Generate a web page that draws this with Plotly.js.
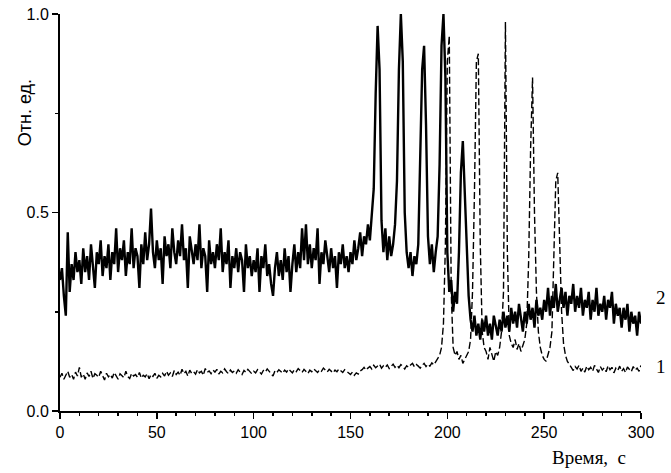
<!DOCTYPE html>
<html>
<head>
<meta charset="utf-8">
<script src="https://cdn.plot.ly/plotly-3.0.1.min.js"></script>
<style>html,body{margin:0;padding:0;background:#fff;}#chart{width:671px;height:473px;}</style>
</head>
<body>
<div id="chart"></div>
<script>
// Time axis, seconds (1 s step)
const timeStart = 0;
const timeEnd = 300;
const time = [];
for (let t = timeStart; t <= timeEnd; t++) time.push(t);

// Curve 2 (solid), relative units, t = 0..300
const curve2 = [
0.33,0.36,0.29,0.24,0.45,0.30,0.37,0.33,0.40,0.35,
0.38,0.32,0.41,0.35,0.39,0.33,0.42,0.36,0.31,0.40,
0.37,0.43,0.34,0.39,0.36,0.42,0.33,0.40,0.37,0.46,
0.35,0.41,0.38,0.43,0.34,0.40,0.37,0.46,0.36,0.41,
0.39,0.31,0.42,0.37,0.45,0.38,0.42,0.51,0.40,0.36,
0.43,0.38,0.41,0.32,0.44,0.39,0.42,0.36,0.46,0.40,
0.37,0.43,0.39,0.47,0.38,0.41,0.31,0.44,0.40,0.37,
0.42,0.38,0.47,0.36,0.41,0.39,0.30,0.43,0.37,0.40,
0.36,0.42,0.38,0.46,0.35,0.40,0.37,0.43,0.31,0.39,
0.36,0.41,0.35,0.40,0.38,0.30,0.42,0.36,0.39,0.34,
0.38,0.35,0.41,0.30,0.39,0.36,0.42,0.34,0.37,0.32,
0.29,0.36,0.40,0.34,0.38,0.33,0.41,0.35,0.39,0.30,
0.37,0.42,0.35,0.40,0.36,0.46,0.38,0.47,0.37,0.42,
0.36,0.41,0.38,0.46,0.32,0.40,0.37,0.43,0.39,0.35,
0.41,0.36,0.39,0.31,0.40,0.37,0.42,0.36,0.39,0.35,
0.40,0.37,0.43,0.38,0.41,0.45,0.39,0.44,0.42,0.47,
0.43,0.50,0.56,0.80,0.97,0.86,0.48,0.40,0.46,0.38,
0.44,0.39,0.42,0.47,0.58,0.86,1.00,0.88,0.50,0.40,
0.36,0.40,0.34,0.39,0.37,0.42,0.62,0.86,0.92,0.72,
0.44,0.37,0.42,0.35,0.40,0.44,0.62,0.92,1.00,0.84,
0.40,0.30,0.33,0.25,0.30,0.27,0.40,0.60,0.68,0.55,
0.42,0.29,0.23,0.20,0.24,0.19,0.22,0.18,0.23,0.20,
0.24,0.19,0.22,0.18,0.24,0.21,0.19,0.23,0.20,0.25,
0.21,0.24,0.20,0.26,0.22,0.25,0.21,0.27,0.23,0.20,
0.25,0.22,0.27,0.23,0.26,0.21,0.28,0.24,0.26,0.23,
0.28,0.25,0.31,0.24,0.29,0.26,0.32,0.25,0.28,0.31,
0.26,0.30,0.24,0.29,0.27,0.32,0.25,0.29,0.26,0.31,
0.24,0.28,0.26,0.30,0.23,0.28,0.25,0.31,0.24,0.27,
0.25,0.29,0.23,0.28,0.26,0.30,0.22,0.27,0.24,0.26,
0.21,0.26,0.23,0.27,0.20,0.25,0.22,0.24,0.19,0.25,
0.22
];

// Curve 1 (dashed), relative units, t = 0..300
const curve1 = [
0.085,0.095,0.08,0.09,0.10,0.085,0.092,0.08,0.098,0.088,
0.11,0.085,0.093,0.08,0.096,0.087,0.10,0.082,0.094,0.09,
0.085,0.10,0.088,0.078,0.095,0.086,0.092,0.083,0.097,0.088,
0.08,0.094,0.09,0.084,0.10,0.087,0.082,0.095,0.088,0.092,
0.085,0.097,0.083,0.09,0.086,0.094,0.081,0.092,0.087,0.095,
0.082,0.09,0.086,0.095,0.088,0.10,0.09,0.096,0.087,0.102,
0.092,0.098,0.09,0.105,0.094,0.10,0.088,0.103,0.095,0.099,
0.093,0.104,0.096,0.10,0.09,0.107,0.097,0.101,0.094,0.103,
0.098,0.105,0.093,0.10,0.096,0.106,0.099,0.094,0.103,0.097,
0.101,0.095,0.104,0.098,0.092,0.102,0.097,0.105,0.099,0.094,
0.10,0.096,0.104,0.099,0.093,0.102,0.098,0.106,0.10,0.095,
0.088,0.101,0.097,0.104,0.099,0.095,0.103,0.098,0.106,0.10,
0.096,0.104,0.099,0.107,0.101,0.097,0.105,0.10,0.094,0.103,
0.099,0.106,0.101,0.097,0.104,0.10,0.108,0.102,0.098,0.105,
0.10,0.096,0.103,0.099,0.106,0.101,0.097,0.104,0.10,0.095,
0.092,0.098,0.09,0.096,0.093,0.101,0.104,0.11,0.103,0.108,
0.112,0.106,0.115,0.109,0.113,0.118,0.108,0.114,0.11,0.116,
0.107,0.113,0.118,0.11,0.115,0.109,0.117,0.112,0.106,0.114,
0.11,0.116,0.12,0.111,0.117,0.113,0.108,0.115,0.12,0.112,
0.118,0.113,0.121,0.116,0.124,0.13,0.14,0.16,0.22,0.42,
0.88,0.945,0.30,0.16,0.14,0.15,0.13,0.14,0.12,0.13,
0.14,0.15,0.18,0.30,0.55,0.88,0.90,0.42,0.20,0.16,
0.15,0.13,0.16,0.14,0.125,0.15,0.14,0.16,0.20,0.30,
0.98,0.40,0.19,0.17,0.16,0.18,0.155,0.17,0.15,0.165,
0.18,0.22,0.38,0.66,0.84,0.50,0.30,0.20,0.16,0.14,
0.13,0.125,0.14,0.16,0.20,0.40,0.58,0.60,0.42,0.25,
0.17,0.14,0.125,0.118,0.11,0.102,0.112,0.106,0.115,0.10,
0.108,0.098,0.113,0.104,0.11,0.10,0.115,0.105,0.097,0.112,
0.103,0.109,0.099,0.114,0.104,0.11,0.096,0.108,0.102,0.113,
0.10,0.107,0.097,0.111,0.104,0.099,0.112,0.103,0.108,0.10,
0.115
];

const xTickVals = [0, 50, 100, 150, 200, 250, 300];
const yTickVals = [0.0, 0.5, 1.0];
const yTickText = ['0.0', '0.5', '1.0'];
const xTitle = 'Время,  с';
const yTitle = 'Отн. ед.';
const curveLabels = ['2', '1'];
const curveLabelY = [0.285, 0.113];

const traces = [
  {x: time, y: curve2, type: 'scatter', mode: 'lines', name: '2',
   line: {color: '#000', width: 2.4}, hoverinfo: 'skip'},
  {x: time, y: curve1, type: 'scatter', mode: 'lines', name: '1',
   line: {color: '#000', width: 1.4, dash: '7px,3px'}, hoverinfo: 'skip'}
];

const axisFont = {family: 'Liberation Sans, Arial, sans-serif', size: 16, color: '#000'};

const layout = {
  width: 671, height: 473,
  margin: {l: 60, r: 30, t: 14, b: 62, pad: 0},
  paper_bgcolor: '#fff', plot_bgcolor: '#fff',
  showlegend: false,
  xaxis: {
    range: [0, 300], tickvals: xTickVals, ticks: 'outside', ticklen: 6, tickwidth: 1.5,
    tickcolor: '#000', showline: true, linecolor: '#000', linewidth: 2, mirror: false,
    showgrid: false, zeroline: false, tickfont: axisFont,
    minor: {dtick: 10, ticks: 'outside', ticklen: 3, tickwidth: 1.5, tickcolor: '#000', showgrid: false}
  },
  yaxis: {
    range: [0, 1], tickvals: yTickVals, ticktext: yTickText, ticks: 'outside', ticklen: 6, tickwidth: 1.5,
    tickcolor: '#000', showline: true, linecolor: '#000', linewidth: 2, mirror: false,
    showgrid: false, zeroline: false, tickfont: axisFont,
    minor: {dtick: 0.25, ticks: 'outside', ticklen: 3, tickwidth: 1.5, tickcolor: '#000', showgrid: false}
  },
  annotations: [
    {text: xTitle, xref: 'paper', yref: 'paper', x: 1.0, xshift: -13, y: 0, yshift: -34, xanchor: 'right', yanchor: 'top',
     showarrow: false, font: {family: 'Liberation Serif, Times New Roman, serif', size: 19, color: '#000'}},
    {text: yTitle, xref: 'paper', yref: 'paper', x: 0, xshift: -35, y: 0.75, xanchor: 'center', yanchor: 'middle',
     textangle: -90, showarrow: false, font: {family: 'Liberation Sans, Arial, sans-serif', size: 18, color: '#000'}},
    {text: curveLabels[0], xref: 'paper', yref: 'y', x: 1.0, xshift: 27, y: curveLabelY[0], xanchor: 'right', showarrow: false,
     font: {family: 'Liberation Serif, Times New Roman, serif', size: 19, color: '#000'}},
    {text: curveLabels[1], xref: 'paper', yref: 'y', x: 1.0, xshift: 27, y: curveLabelY[1], xanchor: 'right', showarrow: false,
     font: {family: 'Liberation Serif, Times New Roman, serif', size: 19, color: '#000'}}
  ]
};

Plotly.newPlot('chart', traces, layout, {staticPlot: true, displayModeBar: false});
</script>
</body>
</html>
